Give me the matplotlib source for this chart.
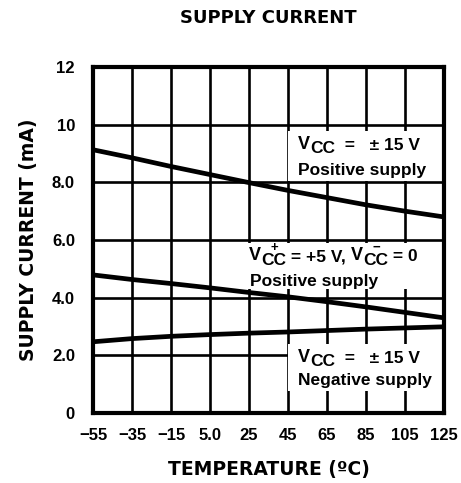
import matplotlib
matplotlib.use("Agg")
import matplotlib.pyplot as plt
from matplotlib.patches import Rectangle

plt.rcParams['font.family'] = ['Liberation Sans', 'DejaVu Sans']

# temperature (C) and supply current (mA)
temp = [-55, -35, -15, 5, 25, 45, 65, 85, 105, 125]
pos_15v = [9.13, 8.85, 8.55, 8.27, 7.99, 7.72, 7.47, 7.22, 7.0, 6.8]
pos_5v = [4.79, 4.63, 4.49, 4.34, 4.18, 4.03, 3.86, 3.68, 3.49, 3.3]
neg_15v = [2.47, 2.58, 2.66, 2.72, 2.77, 2.81, 2.86, 2.91, 2.95, 2.99]

xticks = [-55, -35, -15, 5, 25, 45, 65, 85, 105, 125]
xlabels = ['\u221255', '\u221235', '\u221215', '5.0', '25', '45', '65', '85', '105', '125']
yticks = [0, 2, 4, 6, 8, 10, 12]
ylabels = ['0', '2.0', '4.0', '6.0', '8.0', '10', '12']

fig = plt.figure(figsize=(4.61, 4.83), dpi=100)
ax = fig.add_axes([0.2017, 0.1449, 0.7613, 0.7164])

ax.set_xlim(-55, 125)
ax.set_ylim(0, 12)
ax.set_xticks(xticks)
ax.set_xticklabels(xlabels, fontsize=12, fontweight='bold')
ax.set_yticks(yticks)
ax.set_yticklabels(ylabels, fontsize=12, fontweight='bold')
ax.tick_params(length=0, pad=11)
ax.tick_params(axis='y', pad=13)
ax.grid(True, color='black', linewidth=1.9, zorder=1)
ax.set_axisbelow(True)
for s in ax.spines.values():
    s.set_linewidth(3)

# white label boxes
ax.add_patch(Rectangle((45, 8.05), 80, 1.72, facecolor='white', edgecolor='none', zorder=2))
ax.add_patch(Rectangle((24.5, 4.3), 100.5, 1.6, facecolor='white', edgecolor='none', zorder=2))
ax.add_patch(Rectangle((45, 0.78), 80, 1.62, facecolor='white', edgecolor='none', zorder=2))

ax.plot(temp, pos_15v, color='black', linewidth=3.4, zorder=3)
ax.plot(temp, pos_5v, color='black', linewidth=3.4, zorder=3)
ax.plot(temp, neg_15v, color='black', linewidth=3.4, zorder=3)

fs = 12.5


def vcc(x, y, rest, sup=None):
    # "V" with a full-size lowered "CC", then the rest of the line
    v = ax.text(x, y, 'V', fontsize=fs + 0.5, fontweight='bold', va='baseline', zorder=4)
    cc = ax.annotate('CC', xy=(1, 0), xycoords=v, xytext=(0.3, -2.5), textcoords='offset points',
                     fontsize=fs, fontweight='bold', va='bottom', ha='left', zorder=4)
    if sup:
        ax.annotate(sup, xy=(0.5, 1), xycoords=cc, xytext=(0, -1), textcoords='offset points',
                    fontsize=fs - 3, fontweight='bold', ha='center', va='bottom', zorder=4)
    r = ax.annotate(rest, xy=(1, 0), xycoords=(cc, v), xytext=(0, 0), textcoords='offset points',
                    fontsize=fs, fontweight='bold', va='bottom', ha='left', zorder=4)
    return r


vcc(50, 9.17, '  =   \u00b1 15 V')
ax.text(50, 8.26, 'Positive supply', fontsize=fs, fontweight='bold', va='baseline', zorder=4)
r = vcc(25, 5.3, ' = +5 V, ', sup='+')
v2 = ax.annotate('V', xy=(1, 0), xycoords=r, fontsize=fs + 0.5, fontweight='bold',
                 va='bottom', ha='left', zorder=4)
cc2 = ax.annotate('CC', xy=(1, 0), xycoords=v2, xytext=(0.3, -2.5), textcoords='offset points',
                  fontsize=fs, fontweight='bold', va='bottom', ha='left', zorder=4)
ax.annotate('\u2212', xy=(0.5, 1), xycoords=cc2, xytext=(0, -1), textcoords='offset points',
            fontsize=fs - 3, fontweight='bold', ha='center', va='bottom', zorder=4)
ax.annotate(' = 0', xy=(1, 0), xycoords=(cc2, v2), fontsize=fs, fontweight='bold',
            va='bottom', ha='left', zorder=4)
ax.text(25.5, 4.4, 'Positive supply', fontsize=fs, fontweight='bold', va='baseline', zorder=4)
vcc(50, 1.77, '  =   \u00b1 15 V')
ax.text(50, 0.97, 'Negative supply', fontsize=fs, fontweight='bold', va='baseline', zorder=4)

fig.text(0.582, 0.962, 'SUPPLY CURRENT', ha='center', va='center', fontsize=13,
         fontweight='bold', family='DejaVu Sans')
ax.set_xlabel('TEMPERATURE (\u00baC)', fontsize=13.5, fontweight='bold', family='DejaVu Sans', labelpad=12)
ax.set_ylabel('SUPPLY CURRENT (mA)', fontsize=13.5, fontweight='bold', family='DejaVu Sans', labelpad=10)

fig.savefig('out.png', dpi=100)
